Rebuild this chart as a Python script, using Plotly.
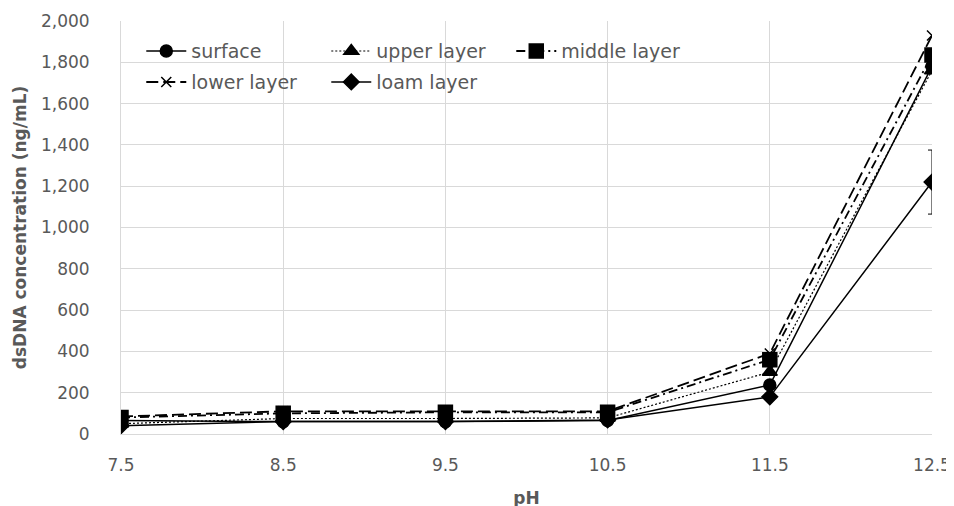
import plotly.graph_objects as go

ph = [7.5, 8.5, 9.5, 10.5, 11.5, 12.5]
surface = [65, 60, 60, 65, 237, 1780]
upper = [50, 75, 75, 78, 300, 1760]
middle = [80, 100, 105, 105, 360, 1835]
lower = [85, 110, 110, 110, 390, 1930]
loam = [40, 60, 60, 68, 180, 1220]
loam_err = [0, 0, 0, 0, 0, 155]
y_ticks = [0, 200, 400, 600, 800, 1000, 1200, 1400, 1600, 1800, 2000]
x_ticks = [7.5, 8.5, 9.5, 10.5, 11.5, 12.5]

FONT = "DejaVu Sans, Liberation Sans, Arial, sans-serif"
GRAY = "#595959"

series = [
    ("surface", surface, "solid", "circle", 12, 1.5, None, "legend"),
    ("upper layer", upper, "2px,2px", "triangle-up", 13, 1.2, None, "legend"),
    ("middle layer", middle, "9px,4px,2px,4px", "square", 14, 1.8, None, "legend"),
    ("lower layer", lower, "12px,5px", "x-thin-open", 10, 1.8, None, "legend2"),
    ("loam layer", loam, "solid", "diamond", 12, 1.5, loam_err, "legend2"),
]

fig = go.Figure()
for name, vals, dash, sym, size, width, err, leg in series:
    kw = {}
    if err is not None:
        kw["error_y"] = dict(type="data", array=err, visible=True,
                             color="black", thickness=1, width=4)
    fig.add_trace(go.Scatter(
        x=ph, y=vals, name=name, mode="lines+markers", legend=leg,
        line=dict(color="black", width=width, dash=dash),
        marker=dict(symbol=sym, size=size, color="black",
                    line=dict(color="black", width=1.5)),
        **kw))

legend_common = dict(orientation="h", xanchor="left", yanchor="top",
                     entrywidth=130, entrywidthmode="pixels",
                     bgcolor="rgba(0,0,0,0)", font=dict(size=19, color=GRAY),
                     itemwidth=40)

fig.update_layout(
    width=954, height=506,
    margin=dict(l=113, r=30, t=13, b=80),
    paper_bgcolor="white", plot_bgcolor="white",
    font=dict(family=FONT, color=GRAY, size=17),
    legend=dict(x=0.025, y=0.973, **legend_common),
    legend2=dict(x=0.025, y=0.898, **legend_common),
    shapes=[dict(type="rect", xref="paper", yref="paper",
                 x0=0.011, x1=0.708, y0=0.809, y1=0.971,
                 fillcolor="white", line=dict(width=0), layer="between")],
    xaxis=dict(range=[7.5, 12.5], tickvals=x_ticks,
               ticktext=[str(v) for v in x_ticks], automargin=False,
               showgrid=True, gridcolor="#d9d9d9", gridwidth=1,
               showline=True, linecolor="#d9d9d9", zeroline=False,
               ticks="", tickfont=dict(size=17, color=GRAY), ticklabelstandoff=16,
               title=dict(text="<b>pH</b>", font=dict(size=17, color=GRAY), standoff=17)),
    yaxis=dict(range=[0, 2000], tickvals=y_ticks, tickformat=",", automargin=False,
               showgrid=True, gridcolor="#d9d9d9", gridwidth=1,
               showline=True, linecolor="#d9d9d9", zeroline=False,
               ticks="", tickfont=dict(size=17, color=GRAY), ticklabelstandoff=27,
               title=dict(text="<b>dsDNA concentration (ng/mL)</b>",
                          font=dict(size=17, color=GRAY), standoff=9)),
)

fig.write_html("out.html")
